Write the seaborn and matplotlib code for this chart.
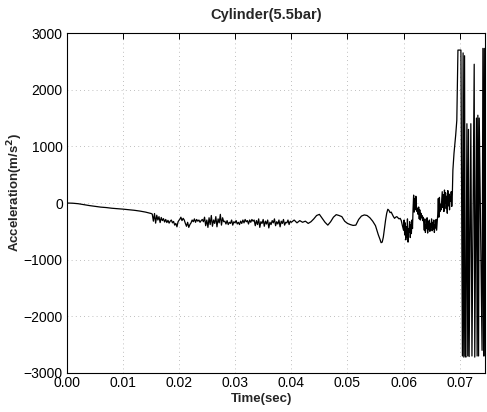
import numpy as np
import pandas as pd
import matplotlib
matplotlib.use("Agg")
import matplotlib.pyplot as plt
import seaborn as sns

sns.set_theme(style="white")
plt.rcParams['font.family'] = ['Liberation Sans', 'DejaVu Sans']

# slow drift from zero
t_drift = [0.0, 0.0010, 0.0020, 0.0030, 0.0040, 0.0050, 0.0060, 0.0070,
           0.0080, 0.0090, 0.0100, 0.0110, 0.0120, 0.0130, 0.0140, 0.0150]
a_drift = [0, -3, -12, -28, -45, -58, -72, -80, -92, -100, -108, -118,
           -128, -142, -160, -185]

# first jitter (0.0152 - 0.0200)
a_jit1 = [-195, -320, -185, -355, -215, -300, -240, -345, -255, -310, -275,
          -335, -290, -345, -305, -355, -320, -300, -350, -325, -390, -360,
          -420, -330, -300]

# dense noise (0.0201 - 0.0400)
a_noise = [-290, -250, -310, -270, -300,
           -360, -410, -340, -430, -380, -350,
           -300, -330, -280, -340, -290, -320, -300, -340, -310, -290, -330,
           -250, -400, -300, -430, -260, -380, -220, -410, -300, -360, -240,
           -420, -280, -350, -200, -390, -260, -330,
           -320, -370, -310, -380, -340, -360, -300, -390, -330, -350, -310,
           -370, -340, -380, -320, -360, -300, -350, -290, -330, -310, -370,
           -300, -340, -290, -320,
           -300, -400, -310, -380, -280, -430, -330, -360, -290, -410, -320,
           -370, -300, -440, -340, -380, -310, -350, -280, -400, -330, -370,
           -300, -420, -320, -360, -290, -390, -340, -350, -300, -380, -320,
           -340]

# slower waves (0.0405 - 0.0555)
a_wave = [-300, -350, -310, -340, -320, -360, -330, -280, -220, -200, -270,
          -340, -390, -330, -250, -205, -220, -240, -320, -360, -380, -395,
          -390, -290, -230, -210, -220, -260, -320, -400, -560]

# dip (0.0558 - 0.0600)
a_dip = [-640, -700, -690, -600, -450, -300, -180, -110, -130, -170, -160,
         -200, -240, -270, -250, -240, -260, -280, -270, -310, -400, -480]

# burst before failure (0.0601 - 0.0687)
a_burst = [-300, -560, -350, -650, -420, -600, -280, -690, -450, -520, -330,
           -610, -380, -540, -300, -450,
           -100, 140, -160, 80, -120, 120, -60, -150, -90,
           -200, -70, -280, -120, -300, -180, -260, -220, -310, -250,
           -350, -480, -280, -520, -390, -450, -260, -530, -330, -470, -300,
           -500, -360, -420, -280, -490, -340, -460, -300, -520, -380, -440,
           -290, -480, -350,
           -200, 80, -250, 100, -150, -20, -120,
           50, 200, -80, 150, -150, 230, 0, 180, -100, 120, -180, 220, -50,
           160, -120, 100, 30, 200, -60, 150]

# sensor saturation swings
t_sat = [0.0688, 0.0690, 0.0693, 0.0695, 0.0697, 0.07023, 0.07050, 0.07062,
         0.07075, 0.07088, 0.07100, 0.07112, 0.0713, 0.07145, 0.07158,
         0.07170, 0.0720, 0.0722, 0.0726, 0.0727, 0.07300, 0.07312, 0.07325,
         0.07338, 0.07350, 0.0740, 0.07415, 0.07428, 0.07440, 0.07452, 0.0747]
a_sat = [580, 880, 1200, 1460, 2700, 2700, -2700, 2650, -2720, 2600, -2700,
         -2720, 1400, -2700, 1300, -2710, 1400, -2700, 2450, -2720, 1500,
         -2700, 1550, -2700, 1500, -2600, 2730, -2700, 2730, -2700, 2730]

time_s = np.concatenate([
    t_drift,
    np.linspace(0.0152, 0.0200, len(a_jit1)),
    np.linspace(0.0201, 0.0400, len(a_noise)),
    np.linspace(0.0405, 0.0555, len(a_wave)),
    np.linspace(0.0558, 0.0600, len(a_dip)),
    np.linspace(0.0601, 0.0687, len(a_burst)),
    t_sat,
])
accel = np.concatenate([a_drift, a_jit1, a_noise, a_wave, a_dip, a_burst, a_sat])
df = pd.DataFrame({"time": time_s, "accel": accel})

fig = plt.figure(figsize=(4.87, 4.12), dpi=100)
ax = fig.add_axes([0.1376, 0.0947, 0.858, 0.825])

sns.lineplot(data=df, x="time", y="accel", estimator=None, sort=False,
             color="black", linewidth=0.9, ax=ax)

ax.set_xlim(0, 0.0745)
ax.set_ylim(-3000, 3000)
ax.set_xticks([0.0, 0.01, 0.02, 0.03, 0.04, 0.05, 0.06, 0.07])
ax.set_xticklabels(["0.00", "0.01", "0.02", "0.03", "0.04", "0.05", "0.06", "0.07"])
ax.set_yticks([-3000, -2000, -1000, 0, 1000, 2000, 3000])
ax.tick_params(direction="in", top=True, right=True, length=4, width=0.7,
               labelsize=10, colors="black")
ax.tick_params(axis="x", pad=2)
ax.tick_params(axis="y", pad=3)

# faint matlab-like dotted grid
ax.grid(True, linestyle=(0, (1, 4)), color="#aaaaaa", linewidth=0.6)
for s in ax.spines.values():
    s.set_color("black")
    s.set_linewidth(0.8)

ax.set_title("Cylinder(5.5bar)", fontsize=10.5, fontweight="bold", x=0.476, pad=10)
ax.set_xlabel("Time(sec)", fontsize=9.5, fontweight="bold")
ax.set_ylabel("Acceleration(m/s$^\\mathbf{2}$)", fontsize=9.5, fontweight="bold")
ax.xaxis.set_label_coords(0.466, -0.058)
ax.yaxis.set_label_coords(-0.10, 0.532)

fig.savefig("out.png", dpi=100)
